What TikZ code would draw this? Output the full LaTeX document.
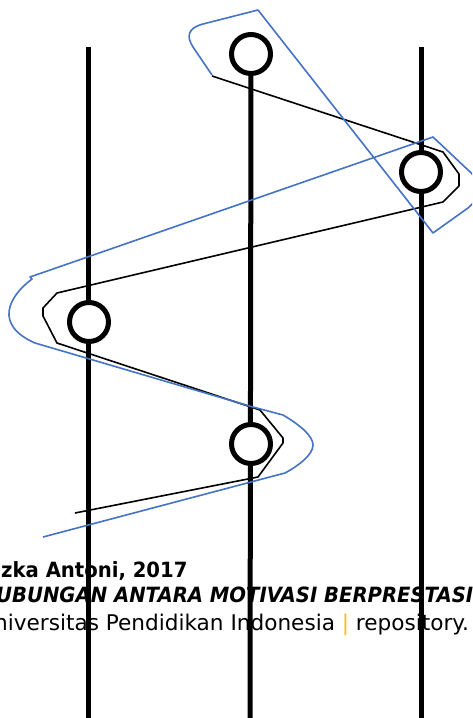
\documentclass[tikz,border=0pt]{standalone}
\usepackage{fontspec}
\setmainfont{DejaVu Sans}
\newfontfamily\footerbold[FakeStretch=0.935]{DejaVu Sans}
\usetikzlibrary{positioning}
\definecolor{sketchblue}{RGB}{68,114,196}
\definecolor{upiyellow}{RGB}{255,192,0}

\begin{document}
\begin{tikzpicture}[
    x=1pt, y=-1pt,
    ring/.style={circle, draw, line width=5pt, fill=white,
                 minimum size=39pt, inner sep=0pt},
    pole/.style={line width=5pt},
    blackloop/.style={line width=1.6pt, line join=round},
    blueloop/.style={sketchblue, line width=1.6pt, line join=round},
    footer/.style={anchor=base west, inner sep=0pt}
  ]
    \clip (0,0) rectangle (472,718);

    \node[footer, font=\fontsize{21}{25}\footerbold\bfseries] (author) at (1,577) {zka Antoni, 2017};
    \node[footer, font=\fontsize{21}{25}\footerbold\bfseries\itshape] (title) at (-4,602) {UBUNGAN ANTARA MOTIVASI BERPRESTASI};
    \node[footer, font=\fontsize{21.6}{25}\selectfont] (inst) at (-6,630) {niversitas Pendidikan Indonesia {\color{upiyellow}|} repository.};

    \node[ring] (c1) at (251,54) {};

    \coordinate (lefttop)  at (88,47);
    \coordinate (leftend)  at (88,725);
    \coordinate (midend)   at (250,725);
    \coordinate (righttop) at (421,47);
    \coordinate (rightend) at (421,725);

    \draw[pole] (lefttop)  -- (leftend);
    \draw[pole] (c1)       -- (midend);
    \draw[pole] (righttop) -- (rightend);

    \node[ring] (c2) at (421,172) {};
    \node[ring] (c3) at (89,322)  {};
    \node[ring] (c4) at (251,444) {};

    \draw[blackloop] (212,76) -- (443,152) -- (459,174) -- (459,186) -- (443,202)
        -- (57,293) -- (43,308) -- (43,316) -- (57,343)
        -- (260,410) -- (283,438) -- (283,443) -- (258,477) -- (75,513);

    \draw[blueloop] (212,75) -- (193,47) .. controls (186,36) and (188,28) .. (203,24)
        -- (258,10) -- (433,233) -- (468,208) .. controls (480,199) and (481,180) .. (468,170)
        -- (433,137) -- (30,277) -- (32,279) .. controls (8,297) and (-6,325) .. (35,343)
        -- (253,407) -- (283,415) .. controls (300,425) and (313,436) .. (313,445)
        .. controls (313,455) and (298,466) .. (285,473) -- (43,537);
\end{tikzpicture}
\end{document}
